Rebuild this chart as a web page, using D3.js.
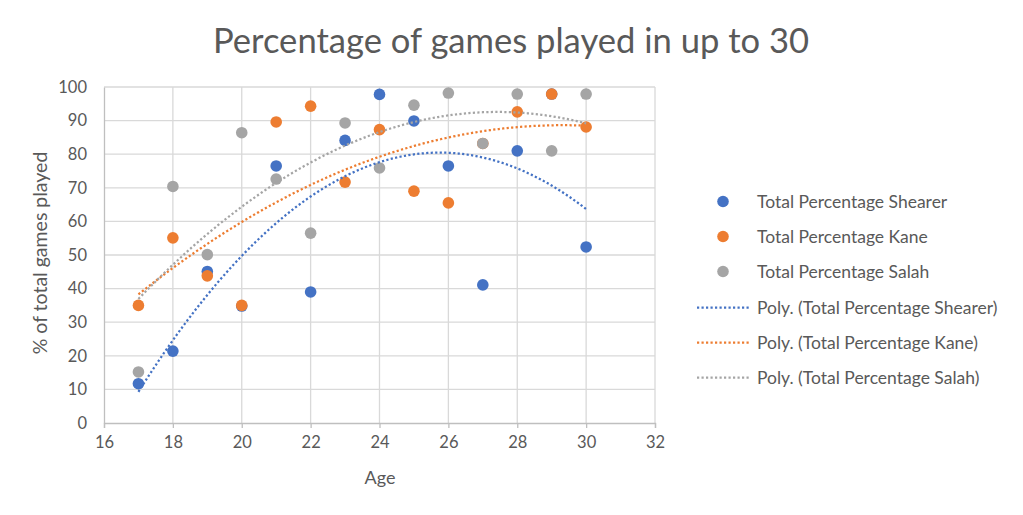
<!DOCTYPE html>
<html>
<head>
<meta charset="utf-8">
<script src="https://cdn.jsdelivr.net/npm/d3@7"></script>
<style>
  body { margin: 0; background: #fff; }
  svg text { font-family: Lato, "Open Sans", sans-serif; fill: #595959; }
</style>
</head>
<body>
<div id="chart"></div>
<script>
// Ages on the x axis
const ages = [17, 18, 19, 20, 21, 22, 23, 24, 25, 26, 27, 28, 29, 30];

// Percentage of games played, per age
const shearer = [11.7, 21.4, 45.1, 34.8, 76.5, 39.0, 84.1, 97.8, 89.9, 76.5, 41.1, 81.0, 97.9, 52.4];
const kane    = [35.0, 55.1, 43.8, 35.0, 89.6, 94.3, 71.7, 87.3, 69.0, 65.5, 83.2, 92.6, 97.9, 88.1];
const salah   = [15.2, 70.4, 50.1, 86.4, 72.6, 56.5, 89.3, 75.9, 94.6, 98.2, 83.2, 97.9, 81.0, 97.9];

const seriesNames = ["Total Percentage Shearer", "Total Percentage Kane", "Total Percentage Salah"];
const seriesColors = ["#4472c4", "#ed7d31", "#a5a5a5"];
const seriesValues = [shearer, kane, salah];

const xTicks = [16, 18, 20, 22, 24, 26, 28, 30, 32];
const yTicks = [0, 10, 20, 30, 40, 50, 60, 70, 80, 90, 100];

const width = 1023;
const height = 515;

const svg = d3.select("#chart")
  .append("svg")
  .attr("width", width)
  .attr("height", height);

// Plot area
const x = d3.scaleLinear().domain([16, 32]).range([104, 655]);
const y = d3.scaleLinear().domain([0, 100]).range([423, 87]);

// Horizontal gridlines
svg.append("g")
  .selectAll("line")
  .data(yTicks.filter(d => d > 0))
  .enter()
  .append("line")
  .attr("x1", x(16)).attr("x2", x(32))
  .attr("y1", d => y(d)).attr("y2", d => y(d))
  .attr("stroke", "#d9d9d9")
  .attr("stroke-width", 1.3);

// Vertical gridlines
svg.append("g")
  .selectAll("line")
  .data(xTicks.filter(d => d > 16))
  .enter()
  .append("line")
  .attr("x1", d => x(d)).attr("x2", d => x(d))
  .attr("y1", y(0)).attr("y2", y(100))
  .attr("stroke", "#d9d9d9")
  .attr("stroke-width", 1.3);

// X axis with small tick marks
const xAxis = svg.append("g")
  .attr("transform", `translate(0,${y(0)})`)
  .call(d3.axisBottom(x).tickValues(xTicks).tickSize(5).tickPadding(8));
xAxis.select(".domain").attr("stroke", "#bfbfbf").attr("stroke-width", 1.3);
xAxis.selectAll(".tick line").attr("stroke", "#bfbfbf").attr("stroke-width", 1.3);
xAxis.selectAll(".tick text")
  .style("font-family", "Lato, sans-serif")
  .attr("font-size", 16.5)
  .attr("fill", "#595959");

// Y axis, no tick marks
const yAxis = svg.append("g")
  .attr("transform", `translate(${x(16)},0)`)
  .call(d3.axisLeft(y).tickValues(yTicks).tickSize(0).tickPadding(17));
yAxis.select(".domain").attr("stroke", "#bfbfbf").attr("stroke-width", 1.3);
yAxis.selectAll(".tick text")
  .style("font-family", "Lato, sans-serif")
  .attr("font-size", 16.5)
  .attr("fill", "#595959");

// Quadratic least squares fit (Excel "Poly." order 2 trendline)
function polyFit(xs, ys) {
  let s = [0, 0, 0, 0, 0], t = [0, 0, 0];
  xs.forEach((xv, i) => {
    for (let k = 0; k < 5; k++) s[k] += Math.pow(xv, k);
    for (let k = 0; k < 3; k++) t[k] += ys[i] * Math.pow(xv, k);
  });
  const m = [
    [s[0], s[1], s[2], t[0]],
    [s[1], s[2], s[3], t[1]],
    [s[2], s[3], s[4], t[2]]
  ];
  // Gaussian elimination
  for (let i = 0; i < 3; i++) {
    for (let j = i + 1; j < 3; j++) {
      const f = m[j][i] / m[i][i];
      for (let k = i; k < 4; k++) m[j][k] -= f * m[i][k];
    }
  }
  const c = [0, 0, 0];
  for (let i = 2; i >= 0; i--) {
    let v = m[i][3];
    for (let k = i + 1; k < 3; k++) v -= m[i][k] * c[k];
    c[i] = v / m[i][i];
  }
  return xv => c[0] + c[1] * xv + c[2] * xv * xv;
}

const line = d3.line()
  .x(d => x(d[0]))
  .y(d => y(d[1]))
  .curve(d3.curveMonotoneX);

// Points first, then trendlines on top
seriesValues.forEach((vals, si) => {
  svg.append("g")
    .selectAll("circle")
    .data(ages.map((a, i) => [a, vals[i]]))
    .enter()
    .append("circle")
    .attr("cx", d => x(d[0]))
    .attr("cy", d => y(d[1]))
    .attr("r", 5.8)
    .attr("fill", seriesColors[si]);
});

seriesValues.forEach((vals, si) => {
  const f = polyFit(ages, vals);
  const pts = d3.range(17, 30.001, 0.1).map(a => [a, f(a)]);
  svg.append("path")
    .datum(pts)
    .attr("d", line)
    .attr("fill", "none")
    .attr("stroke", seriesColors[si])
    .attr("stroke-width", 2.25)
    .attr("stroke-dasharray", "2.2 2.3");
});

// Title
svg.append("text")
  .attr("x", 511)
  .attr("y", 53)
  .attr("text-anchor", "middle")
  .attr("font-size", 34.6)
  .text("Percentage of games played in up to 30");

// Axis titles
svg.append("text")
  .attr("x", 380)
  .attr("y", 484)
  .attr("text-anchor", "middle")
  .attr("font-size", 18)
  .text("Age");

svg.append("text")
  .attr("transform", "translate(47,253) rotate(-90)")
  .attr("text-anchor", "middle")
  .attr("font-size", 19.5)
  .text("% of total games played");

// Legend
const legend = svg.append("g");
seriesNames.forEach((name, i) => {
  const ly = 201.5 + i * 35;
  legend.append("circle")
    .attr("cx", 723).attr("cy", ly).attr("r", 5.8)
    .attr("fill", seriesColors[i]);
  legend.append("text")
    .attr("x", 757).attr("y", ly + 6)
    .attr("font-size", 17.5)
    .text(name);
});
seriesNames.forEach((name, i) => {
  const ly = 307.5 + i * 35;
  legend.append("line")
    .attr("x1", 697).attr("x2", 750)
    .attr("y1", ly).attr("y2", ly)
    .attr("stroke", seriesColors[i])
    .attr("stroke-width", 2.25)
    .attr("stroke-dasharray", "2.2 2.3");
  legend.append("text")
    .attr("x", 757).attr("y", ly + 6)
    .attr("font-size", 17.5)
    .text("Poly. (" + name + ")");
});
</script>
</body>
</html>
